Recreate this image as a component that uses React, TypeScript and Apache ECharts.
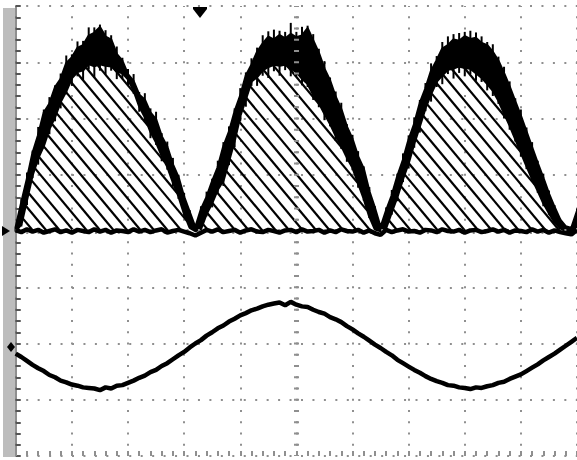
import React, { useEffect, useRef } from "react";
import * as echarts from "echarts";

// sample instants, in horizontal divisions (0 .. 10)
const TIME: number[] = Array.from({ length: 101 }, (_, i) => i / 10);

// channel 1 (rectified waveform): outer (top) edge of the noisy band, in divisions
const OUTER = [
  0.06, 0.5, 0.92, 1.38, 1.7, 2.1, 2.26, 2.55, 2.7, 2.98,
  3.08, 3.25, 3.3, 3.47, 3.52, 3.62, 3.45, 3.4, 3.14, 3.02,
  2.78, 2.66, 2.42, 2.33, 2.1, 1.98, 1.68, 1.49, 1.18, 0.95,
  0.6, 0.33, 0.06, 0.38, 0.6, 0.88, 1.13, 1.5, 1.76, 2.12,
  2.4, 2.76, 2.95, 3.18, 3.33, 3.45, 3.4, 3.48, 3.42, 3.5,
  3.44, 3.47, 3.6, 3.38, 3.16, 2.88, 2.67, 2.38, 2.16, 1.85,
  1.63, 1.32, 1.1, 0.7, 0.4, 0.06, 0.36, 0.63, 0.97, 1.26,
  1.62, 1.9, 2.27, 2.53, 2.84, 3.03, 3.24, 3.3, 3.4, 3.38,
  3.46, 3.41, 3.43, 3.34, 3.3, 3.18, 3.02, 2.8, 2.56, 2.3,
  2.04, 1.76, 1.48, 1.2, 0.94, 0.66, 0.42, 0.2, 0.08, 0.05,
  0.35,
];

// channel 1: inner (lower) edge of the band = top of the hatched area
const INNER = [
  0.0, 0.12, 0.56, 1.0, 1.3, 1.52, 1.82, 2.03, 2.3, 2.49,
  2.72, 2.83, 2.86, 2.97, 2.93, 2.97, 2.94, 2.93, 2.84, 2.81,
  2.7, 2.5, 2.22, 2.03, 1.77, 1.58, 1.34, 1.15, 0.87, 0.62,
  0.31, 0.06, 0.0, 0.04, 0.31, 0.5, 0.74, 0.9, 1.25, 1.61,
  2.05, 2.35, 2.66, 2.74, 2.86, 2.92, 2.96, 2.94, 2.96, 2.89,
  2.83, 2.71, 2.62, 2.43, 2.28, 2.09, 1.91, 1.7, 1.52, 1.31,
  1.13, 0.85, 0.58, 0.26, 0.03, 0.0, 0.06, 0.34, 0.61, 0.93,
  1.21, 1.56, 1.87, 2.19, 2.44, 2.66, 2.77, 2.87, 2.89, 2.93,
  2.9, 2.89, 2.81, 2.73, 2.62, 2.5, 2.32, 2.1, 1.88, 1.64,
  1.4, 1.16, 0.93, 0.72, 0.5, 0.32, 0.16, 0.05, 0.0, 0.0,
  0.08,
];

// short noise spikes above the outer edge (divisions)
const OUTER_SPIKE = [
  0, 0.08, 0.12, 0.05, 0.15, 0.06, 0.12, 0.04, 0.1, 0.14,
  0.06, 0.12, 0.08, 0.15, 0.1, 0.05, 0.12, 0.08, 0.14, 0.06,
  0.1, 0.13, 0.05, 0.12, 0.08, 0.14, 0.06, 0.1, 0.12, 0.05,
  0.08, 0.04, 0, 0.06, 0.1, 0.05, 0.12, 0.08, 0.1, 0.06,
  0.14, 0.06, 0.12, 0.08, 0.15, 0.1, 0.18, 0.08, 0.12, 0.2,
  0.1, 0.16, 0.05, 0.12, 0.08, 0.14, 0.06, 0.1, 0.12, 0.05,
  0.08, 0.1, 0.05, 0.08, 0.04, 0, 0.06, 0.1, 0.05, 0.12,
  0.08, 0.12, 0.06, 0.1, 0.14, 0.08, 0.12, 0.16, 0.1, 0.14,
  0.08, 0.15, 0.1, 0.12, 0.06, 0.14, 0.08, 0.12, 0.1, 0.06,
  0.12, 0.08, 0.1, 0.05, 0.08, 0.06, 0.04, 0.02, 0, 0,
  0.05,
];

// short noise spikes below the inner edge (divisions)
const INNER_SPIKE = [
  0, 0.04, 0.1, 0.06, 0.12, 0.05, 0.1, 0.08, 0.12, 0.06,
  0.14, 0.08, 0.18, 0.1, 0.2, 0.12, 0.16, 0.08, 0.14, 0.1,
  0.12, 0.06, 0.1, 0.08, 0.12, 0.05, 0.1, 0.06, 0.08, 0.05,
  0.04, 0, 0, 0, 0.05, 0.08, 0.06, 0.1, 0.08, 0.12,
  0.1, 0.14, 0.08, 0.16, 0.1, 0.2, 0.12, 0.18, 0.1, 0.14,
  0.08, 0.12, 0.06, 0.1, 0.08, 0.12, 0.05, 0.1, 0.06, 0.08,
  0.05, 0.08, 0.04, 0.03, 0, 0, 0, 0.05, 0.08, 0.06,
  0.1, 0.08, 0.12, 0.06, 0.14, 0.1, 0.16, 0.08, 0.18, 0.12,
  0.15, 0.1, 0.14, 0.08, 0.12, 0.1, 0.06, 0.1, 0.08, 0.05,
  0.08, 0.06, 0.05, 0.04, 0.06, 0.03, 0.02, 0, 0, 0,
  0.02,
];

// channel 1 baseline trace (noise around zero)
const BASELINE = [
  0.01, -0.02, 0.03, -0.01, 0.02, -0.03, 0.0, 0.03, -0.02, 0.01,
  -0.03, 0.02, 0.0, -0.02, 0.03, -0.01, 0.02, -0.03, 0.01, 0.0,
  -0.02, 0.03, -0.01, 0.02, -0.02, 0.01, 0.03, -0.03, 0.0, 0.02,
  -0.01, -0.04, -0.08, -0.03, 0.02, -0.01, 0.03, -0.02, 0.0, 0.02,
  -0.03, 0.01, 0.03, -0.01, -0.02, 0.02, 0.0, -0.03, 0.01, 0.02,
  -0.02, 0.03, -0.01, 0.0, 0.02, -0.03, 0.01, -0.02, 0.03, 0.0,
  -0.01, 0.02, -0.03, 0.01, -0.04, -0.07, 0.02, -0.02, 0.01, 0.03,
  -0.01, 0.0, -0.03, 0.02, 0.01, -0.02, 0.03, 0.0, -0.01, 0.02,
  -0.03, 0.01, 0.02, -0.02, 0.0, 0.03, -0.01, 0.02, -0.03, 0.01,
  0.0, -0.02, 0.03, -0.01, 0.02, -0.03, 0.01, -0.02, -0.04, -0.06,
  0.02,
];

// channel 2 (sine), in divisions
const CH2 = [
  -2.18, -2.24, -2.31, -2.38, -2.44, -2.49, -2.56, -2.6, -2.66, -2.69,
  -2.73, -2.75, -2.78, -2.79, -2.8, -2.83, -2.78, -2.8, -2.75, -2.74,
  -2.7, -2.66, -2.61, -2.57, -2.51, -2.47, -2.4, -2.35, -2.28, -2.21,
  -2.15, -2.07, -2.0, -1.94, -1.86, -1.8, -1.73, -1.68, -1.61, -1.56,
  -1.5, -1.46, -1.41, -1.38, -1.34, -1.31, -1.29, -1.27, -1.32, -1.26,
  -1.31, -1.34, -1.35, -1.4, -1.44, -1.47, -1.53, -1.57, -1.62, -1.69,
  -1.75, -1.82, -1.88, -1.95, -2.02, -2.08, -2.15, -2.21, -2.29, -2.35,
  -2.41, -2.47, -2.52, -2.58, -2.63, -2.67, -2.7, -2.74, -2.75, -2.78,
  -2.79, -2.81, -2.78, -2.79, -2.76, -2.74, -2.7, -2.68, -2.63, -2.59,
  -2.55, -2.49, -2.43, -2.37, -2.3, -2.24, -2.18, -2.11, -2.04, -1.97,
  -1.9,
];

const GRID_GRAY = "#8f8f8f";

export default function App() {
  const ref = useRef<HTMLDivElement>(null);

  useEffect(() => {
    if (!ref.current) return;
    const chart = echarts.init(ref.current, null, { renderer: "svg" });
    const pair = (arr: number[]) => TIME.map((t, i) => [t, arr[i]]);

    const bandItem = (params: any, api: any) => {
      const top = TIME.map((t, i) => api.coord([t, OUTER[i]]));
      const bottom = TIME.map((t, i) => api.coord([t, INNER[i]])).reverse();
      const children: any[] = [
        {
          type: "polygon",
          shape: { points: top.concat(bottom) },
          style: { fill: "#000", stroke: "#000", lineWidth: 2.5, lineJoin: "round" },
        },
      ];
      TIME.forEach((t, i) => {
        if (OUTER_SPIKE[i] > 0) {
          const a = api.coord([t, OUTER[i]]);
          const b = api.coord([t, OUTER[i] + OUTER_SPIKE[i]]);
          children.push({
            type: "line",
            shape: { x1: a[0], y1: a[1], x2: b[0], y2: b[1] },
            style: { stroke: "#000", lineWidth: 2 },
          });
        }
        if (INNER_SPIKE[i] > 0 && INNER[i] - INNER_SPIKE[i] > 0) {
          const a = api.coord([t, INNER[i]]);
          const b = api.coord([t, INNER[i] - INNER_SPIKE[i]]);
          children.push({
            type: "line",
            shape: { x1: a[0], y1: a[1], x2: b[0], y2: b[1] },
            style: { stroke: "#000", lineWidth: 2 },
          });
        }
      });
      return { type: "group", children };
    };

    const hatchItem = (params: any, api: any) => {
      const pts = TIME.map((t, i) => api.coord([t, INNER[i]]));
      const y0 = api.coord([0, 0])[1];
      const x0 = pts[0][0];
      const x1 = pts[pts.length - 1][0];
      const dx = pts[1][0] - pts[0][0];
      const topAt = (x: number) => {
        let k = Math.floor((x - x0) / dx);
        if (k < 0) k = 0;
        if (k > pts.length - 2) k = pts.length - 2;
        const t = (x - pts[k][0]) / (pts[k + 1][0] - pts[k][0]);
        return pts[k][1] + t * (pts[k + 1][1] - pts[k][1]);
      };
      const slope = 1.2;
      const spacing = 13.5;
      const children: any[] = [];
      const seg = (s: number[], e: number[]) =>
        children.push({
          type: "line",
          shape: { x1: s[0], y1: s[1], x2: e[0], y2: e[1] },
          style: { stroke: "#000", lineWidth: 2.2 },
        });
      for (let xb = x0 + 4; xb < x1 + 200; xb += spacing) {
        let start: number[] | null = null;
        let prev: number[] | null = null;
        for (let x = xb - 200; x <= xb + 0.01; x += 0.5) {
          const y = y0 + slope * (x - xb);
          const inside =
            x >= x0 && x <= x1 && y <= y0 + 0.01 && y >= topAt(x) && y0 - topAt(x) > 0.8;
          if (inside && !start) start = [x, y];
          if (!inside && start && prev) {
            seg(start, prev);
            start = null;
          }
          prev = [x, y];
        }
        if (start && prev) seg(start, prev);
      }
      return { type: "group", children };
    };

    chart.setOption({
      animation: false,
      backgroundColor: "#ffffff",
      grid: { left: 15.75, right: -11.25, top: 6, bottom: 4 },
      xAxis: {
        type: "value",
        min: 0,
        max: 10,
        interval: 1,
        axisLine: { show: false, onZero: false },
        axisLabel: { show: false },
        axisTick: { show: true, inside: true, length: 5, lineStyle: { color: GRID_GRAY, width: 2 } },
        minorTick: { show: true, splitNumber: 5, length: 5, lineStyle: { color: GRID_GRAY, width: 2 } },
        splitLine: {
          show: true,
          lineStyle: { color: GRID_GRAY, width: 2, type: [2, 9.25], dashOffset: 1 },
        },
      },
      yAxis: {
        type: "value",
        min: -4,
        max: 4,
        interval: 1,
        axisLine: { show: true, onZero: false, lineStyle: { color: "#6a6a6a", width: 1.5 } },
        axisLabel: { show: false },
        axisTick: { show: true, inside: true, length: 5, lineStyle: { color: "#555", width: 2 } },
        minorTick: { show: true, splitNumber: 5, length: 5, lineStyle: { color: "#555", width: 2 } },
        splitLine: {
          show: true,
          lineStyle: { color: GRID_GRAY, width: 2, type: [2, 9.45], dashOffset: 1 },
        },
      },
      graphic: [
        { type: "rect", shape: { x: 3, y: 8, width: 12, height: 449 }, style: { fill: "#bdbdbd" }, z: 0 },
        { type: "rect", shape: { x: 193, y: 7, width: 14, height: 2 }, style: { fill: "#000" }, z: 10 },
        { type: "polygon", shape: { points: [[193, 9], [207, 9], [200, 18]] }, style: { fill: "#000" }, z: 10 },
        { type: "polygon", shape: { points: [[2, 226], [10, 231], [2, 236]] }, style: { fill: "#000" }, z: 10 },
        { type: "polygon", shape: { points: [[7, 347], [11, 342], [15, 347], [11, 352]] }, style: { fill: "#000" }, z: 10 },
      ],
      series: [
        {
          name: "guides",
          type: "line",
          data: pair(BASELINE),
          showSymbol: false,
          silent: true,
          lineStyle: { opacity: 0 },
          z: 1,
          markLine: {
            silent: true,
            symbol: "none",
            label: { show: false },
            data: [
              { xAxis: 5, lineStyle: { color: GRID_GRAY, width: 5, type: [2, 9.25], dashOffset: 1 } },
              { yAxis: 0, lineStyle: { color: GRID_GRAY, width: 5, type: [2, 9.45], dashOffset: 1 } },
            ],
          },
        },
        {
          name: "hatch",
          type: "custom",
          renderItem: hatchItem,
          data: [[0, 0]],
          silent: true,
          z: 2,
        },
        {
          name: "band",
          type: "custom",
          renderItem: bandItem,
          data: [[0, 0]],
          silent: true,
          z: 3,
        },
        {
          name: "ch2",
          type: "line",
          data: pair(CH2),
          showSymbol: false,
          lineStyle: { color: "#000", width: 4.5 },
          z: 4,
        },
        {
          name: "baseline",
          type: "line",
          data: pair(BASELINE),
          showSymbol: false,
          lineStyle: { color: "#000", width: 4.5 },
          z: 5,
        },
      ],
    });

    return () => chart.dispose();
  }, []);

  return (
    <div
      ref={ref}
      style={{ position: "fixed", left: 0, top: 0, width: 577, height: 460, background: "#fff" }}
    />
  );
}
